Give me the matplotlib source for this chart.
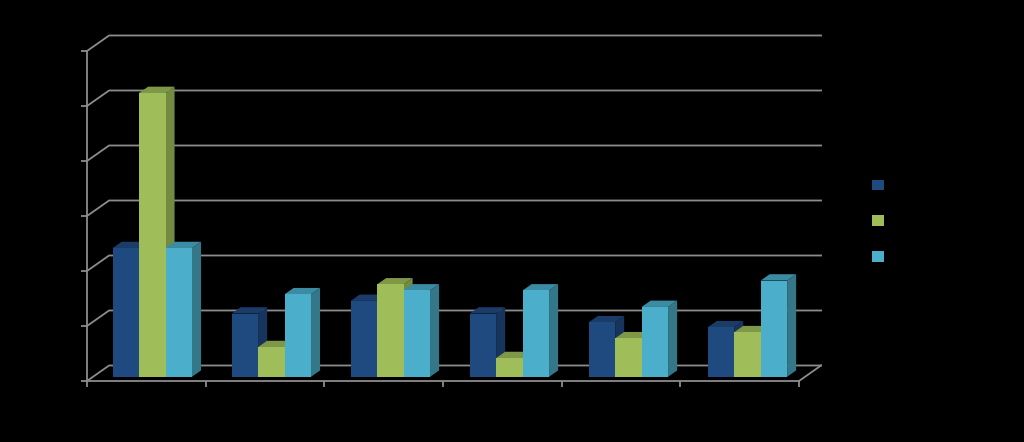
import numpy as np
import matplotlib
matplotlib.use("Agg")
import matplotlib.pyplot as plt
from matplotlib.patches import Patch

# values (the labels are black on black in the original)
blue = [2.34, 1.15, 1.38, 1.15, 0.99, 0.90]
green = [5.16, 0.54, 1.68, 0.34, 0.70, 0.81]
teal = [2.34, 1.50, 1.57, 1.57, 1.27, 1.75]
y_ticks = [0, 1, 2, 3, 4, 5, 6]

series = [blue, green, teal]
# front, top, side
colours = [("#1f4a80", "#1b3c69", "#17355c"),
           ("#9fbe5a", "#7f9848", "#738a41"),
           ("#4bafcb", "#3b8ba3", "#347789")]
grey = "#8c8c8c"

# size of the 3d depth, in data units
depth_x = 0.186
depth_y = 0.282
bar_w = 0.223
group_step = 1.003
front = 0.27   # where the bars start in the depth
back = 0.68    # and where they stop


def shift(x, y, d):
    return x + d * depth_x, y + d * depth_y


fig = plt.figure(figsize=(10.24, 4.42), dpi=100, facecolor="black")
ax = fig.add_axes([87 / 1024, (442 - 381) / 442, 712 / 1024, 330 / 442])
ax.set_facecolor("black")
ax.set_xlim(0, 6)
ax.set_ylim(0, 6)

# wall and floor lines
for v in y_ticks:
    bx, by = shift(0, v, 1)
    ax.plot([0, bx, 6 + depth_x], [v, by, by], color=grey, lw=1.3, clip_on=False, zorder=1)
ax.plot([6, 6 + depth_x], [0, depth_y], color=grey, lw=1.3, clip_on=False, zorder=1)

# bars, left to right so the next front covers the side of the one before
for g in range(6):
    for s, vals in enumerate(series):
        h = vals[g]
        left = g * group_step + 0.5 - 1.5 * bar_w + s * bar_w
        right = left + bar_w
        c_front, c_top, c_side = colours[s]
        x0, y0 = shift(left, 0, front)
        x1, y1 = shift(right, h, front)
        x0b, y0b = shift(left, 0, back)
        x1b, y1b = shift(right, h, back)
        z = 2 + g * 3 + s
        ax.fill([x1, x1b, x1b, x1], [y0, y0b, y1b, y1], color=c_side, lw=0, clip_on=False, zorder=z)
        ax.fill([x0, x0b, x1b, x1], [y1, y1b, y1b, y1], color=c_top, lw=0, clip_on=False, zorder=z)
        ax.fill([x0, x1, x1, x0], [y0, y0, y1, y1], color=c_front, lw=0, clip_on=False, zorder=z)

for name in ["top", "right"]:
    ax.spines[name].set_visible(False)
for name in ["left", "bottom"]:
    ax.spines[name].set_color(grey)
    ax.spines[name].set_linewidth(1.3)
    ax.spines[name].set_zorder(1)
ax.set_xticks(range(7))
ax.set_yticks(y_ticks)
ax.tick_params(colors=grey, width=1.3, length=4.5, labelleft=False, labelbottom=False)

handles = [Patch(facecolor=c[0], edgecolor="none") for c in colours]
fig.legend(handles, ["", "", ""], loc="center left", bbox_to_anchor=(0.8515, 1 - 221.5 / 442),
           frameon=False, handlelength=0.86, handleheight=0.8, labelspacing=1.57,
           borderpad=0, borderaxespad=0, fontsize=10)

fig.savefig("out.png", dpi=100, facecolor="black")
